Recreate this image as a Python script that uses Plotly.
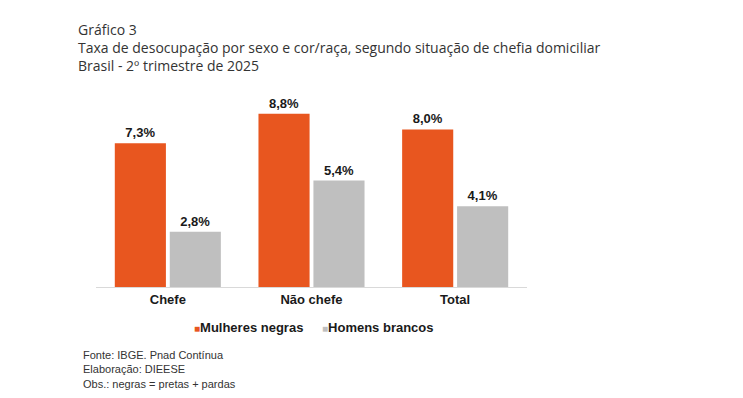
import plotly.graph_objects as go

categories = ["Chefe", "Não chefe", "Total"]
mulheres_negras = [7.3, 8.8, 8.0]
homens_brancos = [2.8, 5.4, 4.1]
series_names = ["Mulheres negras", "Homens brancos"]
colors = ["#E8561F", "#BFBFBF"]
title_lines = ["Gráfico 3",
               "Taxa de desocupação por sexo e cor/raça, segundo situação de chefia domiciliar",
               "Brasil - 2º trimestre de 2025"]
footnotes = ["Fonte: IBGE. Pnad Contínua", "Elaboração: DIEESE", "Obs.: negras = pretas + pardas"]

def fmt(v):
    return f"{v:.1f}".replace(".", ",") + "%"

W, H = 743, 398
OFF = 8  # page body margin
L, R, T, B = 96 - OFF, 216 + OFF, 90 - OFF, 111 + OFF
PW, PH = W - L - R, H - T - B

def px(x):
    return (x - OFF - L) / PW

def py(y):
    return 1 - (y - OFF - T) / PH

fig = go.Figure()
for name, vals, col in zip(series_names, [mulheres_negras, homens_brancos], colors):
    fig.add_trace(go.Bar(
        x=categories, y=vals, name=name,
        marker=dict(color=col, line=dict(width=0)),
        text=[fmt(v) for v in vals], textposition="outside",
        textfont=dict(family="Liberation Sans, Arial", size=13, color="#1a1a1a", weight="bold"),
        cliponaxis=False, showlegend=False,
    ))

title_font = dict(family="Open Sans", size=14, color="#333333")
ann = [dict(text="<br>".join(title_lines), xref="paper", yref="paper", x=px(76), y=py(47.5),
            xanchor="left", yanchor="middle", align="left", showarrow=False, font=title_font)]

foot_font = dict(family="Liberation Sans, Arial", size=11, color="#333333")
ann.append(dict(text="<br>".join(footnotes), xref="paper", yref="paper", x=px(81), y=py(369.5),
                xanchor="left", yanchor="middle", align="left", showarrow=False, font=foot_font))

# legend
leg_font = dict(family="Liberation Sans, Arial", size=13, color="#1a1a1a", weight="bold")
for name, col, xx in zip(series_names, colors, [192, 320]):
    ann.append(dict(text=f"<span style='color:{col};font-size:10px'>■</span>{name}",
                    xref="paper", yref="paper", x=px(xx), y=py(327),
                    xanchor="left", yanchor="middle", showarrow=False, font=leg_font))

fig.update_layout(
    width=W, height=H,
    margin=dict(l=L, r=R, t=T, b=B),
    paper_bgcolor="white", plot_bgcolor="white",
    barmode="group", bargap=0.235, bargroupgap=0.07,
    xaxis=dict(showline=True, linecolor="#D9D9D9", linewidth=1, ticks="",
               tickfont=dict(family="Liberation Sans, Arial", size=13, color="#1a1a1a", weight="bold"),
               showgrid=False),
    yaxis=dict(range=[0, 10], visible=False, showgrid=False),
    annotations=ann,
    font=dict(family="Liberation Sans, Arial"),
)
fig.write_html("out.html")
